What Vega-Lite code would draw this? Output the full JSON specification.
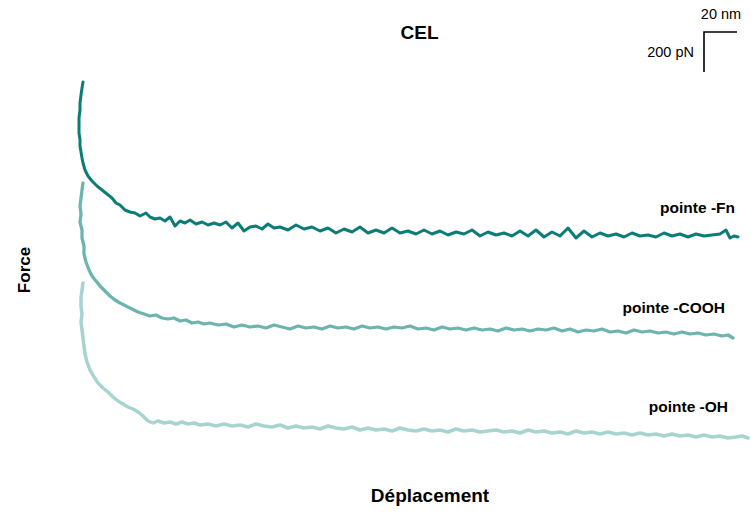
{
  "$schema": "https://vega.github.io/schema/vega-lite/v6.json",
  "width": 751,
  "height": 515,
  "padding": 0,
  "autosize": {"type": "fit", "contains": "padding"},
  "config": {"view": {"stroke": null}, "font": "Liberation Sans"},
  "datasets": {
    "curves": [
      {"c":"Fn","x":41.5,"f":2165},{"c":"Fn","x":41,"f":2135},{"c":"Fn","x":40.5,"f":2100},{"c":"Fn","x":40,"f":2060},{"c":"Fn","x":40,"f":2025},{"c":"Fn","x":39.5,"f":1985},{"c":"Fn","x":39.5,"f":1950},{"c":"Fn","x":39.5,"f":1910},{"c":"Fn","x":40,"f":1875},{"c":"Fn","x":40,"f":1845},{"c":"Fn","x":40.5,"f":1815},{"c":"Fn","x":41,"f":1785},{"c":"Fn","x":41.5,"f":1760},{"c":"Fn","x":42.5,"f":1725},{"c":"Fn","x":44,"f":1695},{"c":"Fn","x":46,"f":1670},{"c":"Fn","x":48.5,"f":1645},{"c":"Fn","x":51,"f":1625},{"c":"Fn","x":53.5,"f":1605},{"c":"Fn","x":56,"f":1585},{"c":"Fn","x":58,"f":1560},{"c":"Fn","x":60,"f":1550},{"c":"Fn","x":62.5,"f":1525},{"c":"Fn","x":65,"f":1515},{"c":"Fn","x":67.5,"f":1510},{"c":"Fn","x":70,"f":1495},{"c":"Fn","x":73,"f":1510},{"c":"Fn","x":75,"f":1490},{"c":"Fn","x":77.5,"f":1480},{"c":"Fn","x":80,"f":1485},{"c":"Fn","x":82.5,"f":1470},{"c":"Fn","x":85,"f":1490},{"c":"Fn","x":87.5,"f":1445},{"c":"Fn","x":90,"f":1470},{"c":"Fn","x":92.5,"f":1460},{"c":"Fn","x":95,"f":1475},{"c":"Fn","x":98,"f":1455},{"c":"Fn","x":101,"f":1465},{"c":"Fn","x":104,"f":1450},{"c":"Fn","x":107,"f":1460},{"c":"Fn","x":110,"f":1450},{"c":"Fn","x":113,"f":1465},{"c":"Fn","x":116,"f":1435},{"c":"Fn","x":119,"f":1460},{"c":"Fn","x":122,"f":1420},{"c":"Fn","x":125,"f":1440},{"c":"Fn","x":128,"f":1445},{"c":"Fn","x":131,"f":1430},{"c":"Fn","x":134,"f":1455},{"c":"Fn","x":137,"f":1435},{"c":"Fn","x":140,"f":1440},{"c":"Fn","x":144,"f":1425},{"c":"Fn","x":148,"f":1450},{"c":"Fn","x":152,"f":1430},{"c":"Fn","x":156,"f":1440},{"c":"Fn","x":160,"f":1420},{"c":"Fn","x":164,"f":1435},{"c":"Fn","x":168,"f":1410},{"c":"Fn","x":172,"f":1430},{"c":"Fn","x":176,"f":1415},{"c":"Fn","x":180,"f":1440},{"c":"Fn","x":184,"f":1410},{"c":"Fn","x":188,"f":1425},{"c":"Fn","x":192,"f":1410},{"c":"Fn","x":196,"f":1435},{"c":"Fn","x":200,"f":1410},{"c":"Fn","x":204,"f":1420},{"c":"Fn","x":208,"f":1405},{"c":"Fn","x":212,"f":1425},{"c":"Fn","x":216,"f":1405},{"c":"Fn","x":220,"f":1420},{"c":"Fn","x":224,"f":1400},{"c":"Fn","x":228,"f":1415},{"c":"Fn","x":232,"f":1405},{"c":"Fn","x":236,"f":1425},{"c":"Fn","x":240,"f":1395},{"c":"Fn","x":244,"f":1415},{"c":"Fn","x":248,"f":1400},{"c":"Fn","x":252,"f":1410},{"c":"Fn","x":256,"f":1395},{"c":"Fn","x":260,"f":1420},{"c":"Fn","x":264,"f":1395},{"c":"Fn","x":268,"f":1425},{"c":"Fn","x":272,"f":1390},{"c":"Fn","x":276,"f":1415},{"c":"Fn","x":280,"f":1395},{"c":"Fn","x":284,"f":1435},{"c":"Fn","x":288,"f":1385},{"c":"Fn","x":292,"f":1420},{"c":"Fn","x":296,"f":1390},{"c":"Fn","x":300,"f":1410},{"c":"Fn","x":304,"f":1395},{"c":"Fn","x":308,"f":1405},{"c":"Fn","x":312,"f":1390},{"c":"Fn","x":316,"f":1410},{"c":"Fn","x":320,"f":1395},{"c":"Fn","x":324,"f":1400},{"c":"Fn","x":328,"f":1390},{"c":"Fn","x":332,"f":1410},{"c":"Fn","x":336,"f":1395},{"c":"Fn","x":340,"f":1405},{"c":"Fn","x":344,"f":1390},{"c":"Fn","x":348,"f":1405},{"c":"Fn","x":352,"f":1395},{"c":"Fn","x":356,"f":1400},{"c":"Fn","x":360,"f":1405},{"c":"Fn","x":363,"f":1425},{"c":"Fn","x":365,"f":1385},{"c":"Fn","x":367,"f":1395},{"c":"Fn","x":369,"f":1390},
      {"c":"COOH","x":41.5,"f":1660},{"c":"COOH","x":41,"f":1625},{"c":"COOH","x":40.5,"f":1585},{"c":"COOH","x":40,"f":1545},{"c":"COOH","x":40.5,"f":1505},{"c":"COOH","x":40,"f":1465},{"c":"COOH","x":41,"f":1425},{"c":"COOH","x":41,"f":1385},{"c":"COOH","x":42,"f":1345},{"c":"COOH","x":42,"f":1305},{"c":"COOH","x":43,"f":1265},{"c":"COOH","x":44.5,"f":1225},{"c":"COOH","x":46,"f":1195},{"c":"COOH","x":48,"f":1170},{"c":"COOH","x":50,"f":1145},{"c":"COOH","x":52.5,"f":1120},{"c":"COOH","x":55,"f":1095},{"c":"COOH","x":57.5,"f":1075},{"c":"COOH","x":60,"f":1060},{"c":"COOH","x":63,"f":1045},{"c":"COOH","x":66,"f":1030},{"c":"COOH","x":69,"f":1015},{"c":"COOH","x":72,"f":1005},{"c":"COOH","x":75,"f":995},{"c":"COOH","x":78,"f":1000},{"c":"COOH","x":81,"f":985},{"c":"COOH","x":84,"f":980},{"c":"COOH","x":87,"f":985},{"c":"COOH","x":90,"f":970},{"c":"COOH","x":93,"f":975},{"c":"COOH","x":96,"f":960},{"c":"COOH","x":99,"f":965},{"c":"COOH","x":102,"f":955},{"c":"COOH","x":105,"f":960},{"c":"COOH","x":109,"f":950},{"c":"COOH","x":113,"f":955},{"c":"COOH","x":117,"f":940},{"c":"COOH","x":121,"f":950},{"c":"COOH","x":125,"f":940},{"c":"COOH","x":129,"f":945},{"c":"COOH","x":133,"f":935},{"c":"COOH","x":137,"f":950},{"c":"COOH","x":141,"f":940},{"c":"COOH","x":145,"f":930},{"c":"COOH","x":149,"f":945},{"c":"COOH","x":153,"f":935},{"c":"COOH","x":157,"f":940},{"c":"COOH","x":161,"f":930},{"c":"COOH","x":165,"f":945},{"c":"COOH","x":169,"f":935},{"c":"COOH","x":173,"f":940},{"c":"COOH","x":177,"f":930},{"c":"COOH","x":181,"f":945},{"c":"COOH","x":185,"f":935},{"c":"COOH","x":189,"f":940},{"c":"COOH","x":193,"f":930},{"c":"COOH","x":197,"f":940},{"c":"COOH","x":201,"f":935},{"c":"COOH","x":205,"f":945},{"c":"COOH","x":209,"f":930},{"c":"COOH","x":213,"f":935},{"c":"COOH","x":217,"f":925},{"c":"COOH","x":221,"f":940},{"c":"COOH","x":225,"f":930},{"c":"COOH","x":229,"f":935},{"c":"COOH","x":233,"f":925},{"c":"COOH","x":237,"f":935},{"c":"COOH","x":241,"f":925},{"c":"COOH","x":245,"f":930},{"c":"COOH","x":249,"f":920},{"c":"COOH","x":253,"f":935},{"c":"COOH","x":257,"f":925},{"c":"COOH","x":261,"f":930},{"c":"COOH","x":265,"f":920},{"c":"COOH","x":269,"f":930},{"c":"COOH","x":273,"f":925},{"c":"COOH","x":277,"f":935},{"c":"COOH","x":281,"f":920},{"c":"COOH","x":285,"f":930},{"c":"COOH","x":289,"f":915},{"c":"COOH","x":293,"f":925},{"c":"COOH","x":297,"f":920},{"c":"COOH","x":301,"f":930},{"c":"COOH","x":305,"f":915},{"c":"COOH","x":309,"f":920},{"c":"COOH","x":313,"f":910},{"c":"COOH","x":317,"f":925},{"c":"COOH","x":321,"f":915},{"c":"COOH","x":325,"f":920},{"c":"COOH","x":329,"f":910},{"c":"COOH","x":333,"f":915},{"c":"COOH","x":337,"f":905},{"c":"COOH","x":341,"f":915},{"c":"COOH","x":345,"f":905},{"c":"COOH","x":349,"f":910},{"c":"COOH","x":353,"f":900},{"c":"COOH","x":357,"f":905},{"c":"COOH","x":361,"f":895},{"c":"COOH","x":364,"f":900},{"c":"COOH","x":366.5,"f":885},
      {"c":"OH","x":41.5,"f":1160},{"c":"OH","x":41,"f":1125},{"c":"OH","x":40.5,"f":1085},{"c":"OH","x":40.5,"f":1045},{"c":"OH","x":41,"f":1005},{"c":"OH","x":40.5,"f":965},{"c":"OH","x":41,"f":925},{"c":"OH","x":41.5,"f":885},{"c":"OH","x":42,"f":845},{"c":"OH","x":42.5,"f":805},{"c":"OH","x":43.5,"f":765},{"c":"OH","x":45,"f":725},{"c":"OH","x":47,"f":690},{"c":"OH","x":49,"f":660},{"c":"OH","x":51.5,"f":635},{"c":"OH","x":54,"f":615},{"c":"OH","x":56.5,"f":590},{"c":"OH","x":59,"f":570},{"c":"OH","x":61.5,"f":555},{"c":"OH","x":64,"f":540},{"c":"OH","x":66.5,"f":530},{"c":"OH","x":69,"f":515},{"c":"OH","x":71.5,"f":495},{"c":"OH","x":74,"f":470},{"c":"OH","x":76.5,"f":460},{"c":"OH","x":79,"f":470},{"c":"OH","x":82,"f":460},{"c":"OH","x":85,"f":465},{"c":"OH","x":88,"f":455},{"c":"OH","x":91,"f":465},{"c":"OH","x":94,"f":455},{"c":"OH","x":97,"f":460},{"c":"OH","x":100,"f":450},{"c":"OH","x":104,"f":455},{"c":"OH","x":108,"f":445},{"c":"OH","x":112,"f":455},{"c":"OH","x":116,"f":445},{"c":"OH","x":120,"f":450},{"c":"OH","x":124,"f":440},{"c":"OH","x":128,"f":455},{"c":"OH","x":132,"f":445},{"c":"OH","x":136,"f":440},{"c":"OH","x":140,"f":450},{"c":"OH","x":144,"f":435},{"c":"OH","x":148,"f":445},{"c":"OH","x":152,"f":435},{"c":"OH","x":156,"f":440},{"c":"OH","x":160,"f":430},{"c":"OH","x":164,"f":445},{"c":"OH","x":168,"f":435},{"c":"OH","x":172,"f":430},{"c":"OH","x":176,"f":440},{"c":"OH","x":180,"f":425},{"c":"OH","x":184,"f":435},{"c":"OH","x":188,"f":425},{"c":"OH","x":192,"f":430},{"c":"OH","x":196,"f":420},{"c":"OH","x":200,"f":435},{"c":"OH","x":204,"f":425},{"c":"OH","x":208,"f":420},{"c":"OH","x":212,"f":430},{"c":"OH","x":216,"f":420},{"c":"OH","x":220,"f":425},{"c":"OH","x":224,"f":415},{"c":"OH","x":228,"f":430},{"c":"OH","x":232,"f":420},{"c":"OH","x":236,"f":425},{"c":"OH","x":240,"f":415},{"c":"OH","x":244,"f":420},{"c":"OH","x":248,"f":425},{"c":"OH","x":252,"f":415},{"c":"OH","x":256,"f":420},{"c":"OH","x":260,"f":410},{"c":"OH","x":264,"f":425},{"c":"OH","x":268,"f":415},{"c":"OH","x":272,"f":420},{"c":"OH","x":276,"f":410},{"c":"OH","x":280,"f":415},{"c":"OH","x":284,"f":405},{"c":"OH","x":288,"f":420},{"c":"OH","x":292,"f":410},{"c":"OH","x":296,"f":415},{"c":"OH","x":300,"f":405},{"c":"OH","x":304,"f":415},{"c":"OH","x":308,"f":405},{"c":"OH","x":312,"f":410},{"c":"OH","x":316,"f":400},{"c":"OH","x":320,"f":410},{"c":"OH","x":324,"f":400},{"c":"OH","x":328,"f":405},{"c":"OH","x":332,"f":395},{"c":"OH","x":336,"f":405},{"c":"OH","x":340,"f":395},{"c":"OH","x":344,"f":400},{"c":"OH","x":348,"f":390},{"c":"OH","x":352,"f":400},{"c":"OH","x":356,"f":390},{"c":"OH","x":360,"f":395},{"c":"OH","x":364,"f":385},{"c":"OH","x":368,"f":390},{"c":"OH","x":371,"f":395},{"c":"OH","x":374,"f":385}
    ],
    "labels": [
      {"x":367.5,"f":1535,"t":"pointe -Fn"},
      {"x":362.5,"f":1035,"t":"pointe -COOH"},
      {"x":364,"f":540,"t":"pointe -OH"}
    ],
    "bar": [
      {"x":368.5,"f":2415},{"x":352,"f":2415},{"x":352,"f":2215}
    ]
  },
  "layer": [
    {
      "data": {"name": "curves"},
      "mark": {"type": "line", "strokeJoin": "round", "strokeCap": "round"},
      "encoding": {
        "x": {"field": "x", "type": "quantitative", "scale": {"domain": [0, 375.5], "nice": false, "zero": false}, "axis": null},
        "y": {"field": "f", "type": "quantitative", "scale": {"domain": [0, 2575], "nice": false, "zero": false}, "axis": null},
        "color": {"field": "c", "type": "nominal", "scale": {"domain": ["Fn", "COOH", "OH"], "range": ["#0b7d76", "#6cb4ae", "#a8d4d0"]}, "legend": null},
        "strokeWidth": {"field": "c", "type": "ordinal", "scale": {"domain": ["Fn", "COOH", "OH"], "range": [3, 3.5, 2.5]}, "legend": null},
        "order": {"value": null}
      }
    },
    {
      "data": {"name": "bar"},
      "mark": {"type": "line", "color": "#000000", "strokeWidth": 1.6},
      "encoding": {
        "x": {"field": "x", "type": "quantitative"},
        "y": {"field": "f", "type": "quantitative"},
        "order": {"value": null}
      }
    },
    {
      "data": {"name": "labels"},
      "mark": {"type": "text", "align": "right", "baseline": "middle", "fontWeight": "bold", "fontSize": 15.5, "font": "Liberation Sans", "color": "#000000"},
      "encoding": {
        "x": {"field": "x", "type": "quantitative"},
        "y": {"field": "f", "type": "quantitative"},
        "text": {"field": "t"}
      }
    },
    {
      "data": {"values": [{"x": 209.75, "f": 2412, "t": "CEL"}]},
      "mark": {"type": "text", "align": "center", "baseline": "middle", "fontWeight": "bold", "fontSize": 19, "letterSpacing": 1, "font": "Liberation Sans", "color": "#000000"},
      "encoding": {
        "x": {"field": "x", "type": "quantitative"},
        "y": {"field": "f", "type": "quantitative"},
        "text": {"field": "t"}
      }
    },
    {
      "data": {"values": [{"x": 215, "f": 97, "t": "Déplacement"}]},
      "mark": {"type": "text", "align": "center", "baseline": "middle", "fontWeight": "bold", "fontSize": 19, "letterSpacing": 0.5, "font": "Liberation Sans", "color": "#000000"},
      "encoding": {
        "x": {"field": "x", "type": "quantitative"},
        "y": {"field": "f", "type": "quantitative"},
        "text": {"field": "t"}
      }
    },
    {
      "data": {"values": [{"x": 12.5, "f": 1225, "t": "Force"}]},
      "mark": {"type": "text", "align": "center", "baseline": "middle", "angle": 270, "fontWeight": "bold", "fontSize": 17, "font": "Liberation Sans", "color": "#000000"},
      "encoding": {
        "x": {"field": "x", "type": "quantitative"},
        "y": {"field": "f", "type": "quantitative"},
        "text": {"field": "t"}
      }
    },
    {
      "data": {"values": [{"x": 360.5, "f": 2500, "t": "20 nm"}]},
      "mark": {"type": "text", "align": "center", "baseline": "middle", "fontSize": 14.5, "font": "Liberation Sans", "color": "#000000"},
      "encoding": {
        "x": {"field": "x", "type": "quantitative"},
        "y": {"field": "f", "type": "quantitative"},
        "text": {"field": "t"}
      }
    },
    {
      "data": {"values": [{"x": 347, "f": 2310, "t": "200 pN"}]},
      "mark": {"type": "text", "align": "right", "baseline": "middle", "fontSize": 14.5, "font": "Liberation Sans", "color": "#000000"},
      "encoding": {
        "x": {"field": "x", "type": "quantitative"},
        "y": {"field": "f", "type": "quantitative"},
        "text": {"field": "t"}
      }
    }
  ]
}
